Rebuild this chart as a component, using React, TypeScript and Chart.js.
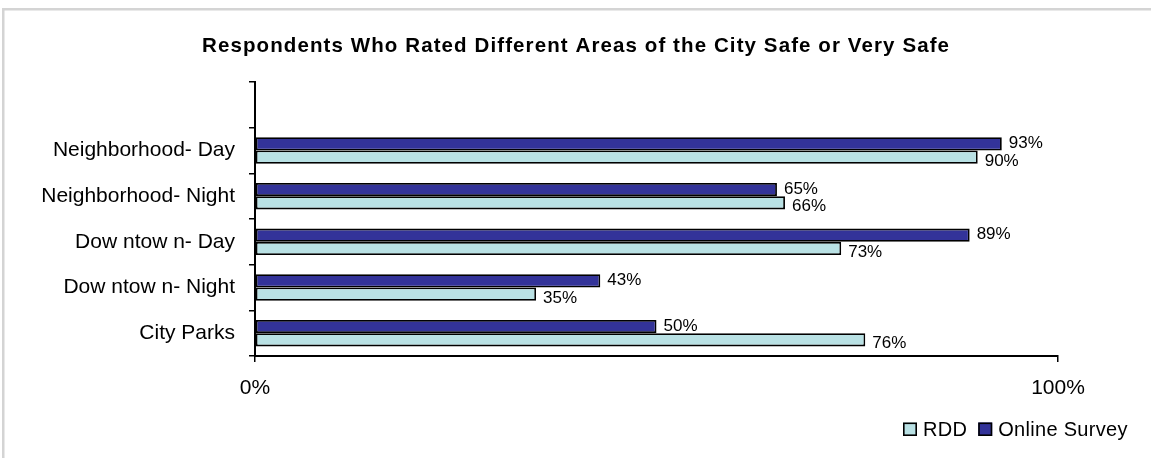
import React, { useEffect, useRef } from 'react';
import { Chart, registerables } from 'chart.js';

Chart.register(...registerables);

// ---- data ----
const categories = [
  'Neighborhood- Day',
  'Neighborhood- Night',
  'Dow ntow n- Day',
  'Dow ntow n- Night',
  'City Parks',
];
const onlineSurvey = [93, 65, 89, 43, 50];
const rdd = [90, 66, 73, 35, 76];
const xMin = 0;
const xMax = 100;
const xStep = 100;
const chartTitle = 'Respondents Who Rated Different Areas of the City Safe or Very Safe';
const seriesNames = ['Online Survey', 'RDD'];

// ---- styles ----
const FONT = '"Liberation Sans", Arial, Helvetica, sans-serif';
const NAVY = '#333399';
const CYAN = '#b9e1e4';
const W = 1151;
const H = 458;

const framePlugin = {
  id: 'frame',
  beforeDraw(chart: any) {
    const ctx = chart.ctx;
    ctx.save();
    ctx.fillStyle = '#fff';
    ctx.fillRect(0, 0, chart.width, chart.height);
    ctx.fillStyle = '#d4d4d4';
    ctx.fillRect(2, 8, chart.width - 2, 2.5);
    ctx.fillRect(2, 8, 2.5, chart.height - 8);
    ctx.restore();
  },
};

const titlePlugin = {
  id: 'customTitle',
  afterDraw(chart: any) {
    const ctx = chart.ctx;
    ctx.save();
    ctx.font = `bold 20.5px ${FONT}`;
    const ls = 1.1;
    (ctx as any).letterSpacing = `${ls}px`;
    ctx.fillStyle = '#000';
    ctx.textAlign = 'left';
    ctx.textBaseline = 'alphabetic';
    const w = ctx.measureText(chartTitle).width - ls;
    ctx.fillText(chartTitle, chart.width / 2 - w / 2, 51.7);
    (ctx as any).letterSpacing = '0px';
    ctx.restore();
  },
};

const valueLabelPlugin = {
  id: 'valueLabels',
  afterDatasetsDraw(chart: any) {
    const ctx = chart.ctx;
    ctx.save();
    (ctx as any).letterSpacing = '0px';
    ctx.font = `17px ${FONT}`;
    ctx.fillStyle = '#000';
    ctx.textAlign = 'left';
    ctx.textBaseline = 'middle';
    chart.data.datasets.forEach((ds: any, di: number) => {
      const meta = chart.getDatasetMeta(di);
      const dy = di === 0 ? -0.5 : 4;
      meta.data.forEach((el: any, i: number) => {
        const v = ds.data[i];
        if (v === null || v === undefined) return;
        ctx.fillText(`${v}%`, el.x + 7, el.y + dy);
      });
    });
    ctx.restore();
  },
};

const legendPlugin = {
  id: 'customLegend',
  afterDraw(chart: any) {
    const ctx = chart.ctx;
    ctx.save();
    ctx.font = `20px ${FONT}`;
    (ctx as any).letterSpacing = '0.3px';
    ctx.textAlign = 'left';
    ctx.textBaseline = 'alphabetic';
    let x = 903;
    const order = [1, 0];
    order.forEach((di) => {
      const ds = chart.data.datasets[di];
      ctx.fillStyle = ds.backgroundColor;
      ctx.fillRect(x, 422.5, 14, 13.5);
      ctx.strokeStyle = '#000';
      ctx.lineWidth = 1.6;
      ctx.strokeRect(x + 0.8, 423.3, 12.4, 11.9);
      ctx.fillStyle = '#000';
      const tx = x + 20;
      ctx.fillText(ds.label, tx, 436);
      x = tx + ctx.measureText(ds.label).width + 11;
    });
    (ctx as any).letterSpacing = '0px';
    ctx.restore();
  },
};

export default function App() {
  const ref = useRef<HTMLCanvasElement>(null);

  useEffect(() => {
    document.body.style.margin = '0';
    const labels = ['', ...categories];
    const chart = new Chart(ref.current as HTMLCanvasElement, {
      type: 'bar',
      data: {
        labels,
        datasets: [
          {
            label: seriesNames[0],
            data: [null, ...onlineSurvey],
            backgroundColor: NAVY,
            borderColor: '#000',
            borderWidth: 1.8,
            borderSkipped: false,
            categoryPercentage: 0.58,
            barPercentage: 1.0,
          },
          {
            label: seriesNames[1],
            data: [null, ...rdd],
            backgroundColor: CYAN,
            borderColor: '#000',
            borderWidth: 1.8,
            borderSkipped: false,
            categoryPercentage: 0.58,
            barPercentage: 1.0,
          },
        ],
      },
      options: {
        indexAxis: 'y',
        responsive: false,
        animation: false,
        devicePixelRatio: 1,
        layout: { padding: { left: 0, right: 93, top: 82, bottom: 52 } },
        plugins: {
          legend: { display: false },
          title: { display: false },
          tooltip: { enabled: false },
        },
        scales: {
          x: {
            type: 'linear',
            min: xMin,
            max: xMax,
            ticks: {
              stepSize: xStep,
              callback: (v: any) => `${v}%`,
              color: '#000',
              font: { family: FONT, size: 21 },
              padding: 14,
              maxRotation: 0,
            },
            grid: {
              drawOnChartArea: false,
              drawTicks: true,
              tickLength: 6,
              color: '#000',
              lineWidth: 1.5,
            },
            border: { display: true, color: '#000', width: 2 },
            afterFit: (s: any) => {
              s.height = 50;
            },
          },
          y: {
            type: 'category',
            offset: true,
            ticks: {
              color: '#000',
              font: { family: FONT, size: 21 },
              padding: 14,
              autoSkip: false,
            },
            grid: {
              offset: true,
              drawOnChartArea: false,
              drawTicks: true,
              tickLength: 6,
              color: '#000',
              lineWidth: 1.5,
            },
            border: { display: true, color: '#000', width: 2 },
            afterFit: (s: any) => {
              s.width = 255;
            },
          },
        },
      } as any,
      plugins: [framePlugin, titlePlugin, valueLabelPlugin, legendPlugin],
    });
    return () => chart.destroy();
  }, []);

  return (
    <div style={{ width: W, height: H, position: 'relative', overflow: 'hidden', background: '#fff' }}>
      <canvas ref={ref} width={W} height={H} style={{ display: 'block', width: W, height: H }} />
    </div>
  );
}
